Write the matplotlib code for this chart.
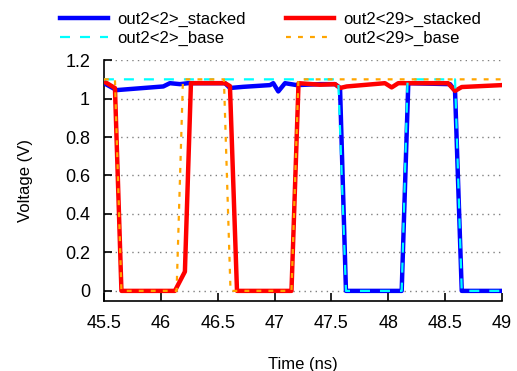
import numpy as np
import matplotlib.pyplot as plt

plt.rcParams['font.family'] = ['Liberation Sans', 'DejaVu Sans']

# ====== datos ======
t_blue = [45.5, 45.612, 46.022, 46.08, 46.168, 46.239, 46.564, 46.608, 46.725, 46.96,
          46.989, 47.033, 47.092, 47.195, 47.4, 47.532, 47.576, 47.628, 48.118, 48.176,
          48.543, 48.587, 48.646, 49.0]
v_blue = [1.08, 1.044, 1.063, 1.08, 1.075, 1.08, 1.08, 1.055, 1.061, 1.07,
          1.08, 1.037, 1.08, 1.07, 1.075, 1.075, 1.055, 0.0, 0.0, 1.08,
          1.075, 1.04, 0.0, 0.0]

t_red = [45.509, 45.597, 45.654, 46.124, 46.212, 46.265, 46.564, 46.608, 46.67, 47.149,
         47.211, 47.4, 47.532, 47.576, 47.635, 47.971, 48.03, 48.088, 48.525, 48.587,
         48.646, 49.0]
v_red = [1.086, 1.055, 0.0, 0.0, 0.10, 1.08, 1.08, 1.065, 0.0, 0.0,
         1.08, 1.072, 1.075, 1.055, 1.063, 1.08, 1.058, 1.08, 1.08, 1.04,
         1.06, 1.07]

t_cyan = [45.5, 47.56, 47.628, 48.118, 48.17, 48.587, 48.646, 49.0]
v_cyan = [1.1, 1.1, 0.0, 0.0, 1.1, 1.1, 0.0, 0.0]

t_orange = [45.5, 45.597, 45.654, 46.139, 46.195, 46.555, 46.613, 47.149, 47.21, 49.0]
v_orange = [1.1, 1.1, 0.0, 0.0, 1.1, 1.1, 0.0, 0.0, 1.1, 1.1]

x_ticks = [45.5, 46, 46.5, 47, 47.5, 48, 48.5, 49]
y_ticks = [0, 0.2, 0.4, 0.6, 0.8, 1, 1.2]

fig = plt.figure(figsize=(5.17, 3.71), dpi=100)
ax = fig.add_axes([0.201, 0.189, 0.770, 0.649])

l_blue, = ax.plot(t_blue, v_blue, color="#0000ff", lw=3.2, label="out2<2>_stacked", zorder=3)
l_red, = ax.plot(t_red, v_red, color="#ff0000", lw=3.2, label="out2<29>_stacked", zorder=4)
l_cyan, = ax.plot(t_cyan, v_cyan, color="#00ffff", lw=1.6, dashes=(4.5, 4.5),
                  label="out2<2>_base", zorder=5)
l_orange, = ax.plot(t_orange, v_orange, color="#ffa500", lw=1.6, dashes=(2.2, 3.2),
                    label="out2<29>_base", zorder=6)

ax.set_xlim(45.5, 49)
ax.set_ylim(-0.052, 1.2)
ax.set_xticks(x_ticks)
ax.set_xticklabels([f"{x:g}" for x in x_ticks])
ax.set_yticks(y_ticks)
ax.set_yticklabels([f"{y:g}" for y in y_ticks])
ax.tick_params(direction="in", length=6, width=1.2, labelsize=13, pad=10)
for side in ["top", "right"]:
    ax.spines[side].set_visible(False)
for side in ["left", "bottom"]:
    ax.spines[side].set_linewidth(1.2)
ax.grid(axis="y", linestyle=(0, (1, 3)), color="gray", lw=1)

ax.set_xlabel("Time (ns)", fontsize=12, labelpad=18)
ax.set_ylabel("Voltage (V)", fontsize=12, labelpad=23)

# orden por columnas para que las filas queden stacked / base
handles = [l_blue, l_cyan, l_red, l_orange]
fig.legend(handles, [h.get_label() for h in handles],
           loc="upper left", bbox_to_anchor=(0.103, 0.985), ncol=2, frameon=False,
           fontsize=12, handlelength=2.9, handletextpad=0.55, columnspacing=2.4,
           labelspacing=0.2, borderaxespad=0)

fig.savefig("out.png", dpi=100)
